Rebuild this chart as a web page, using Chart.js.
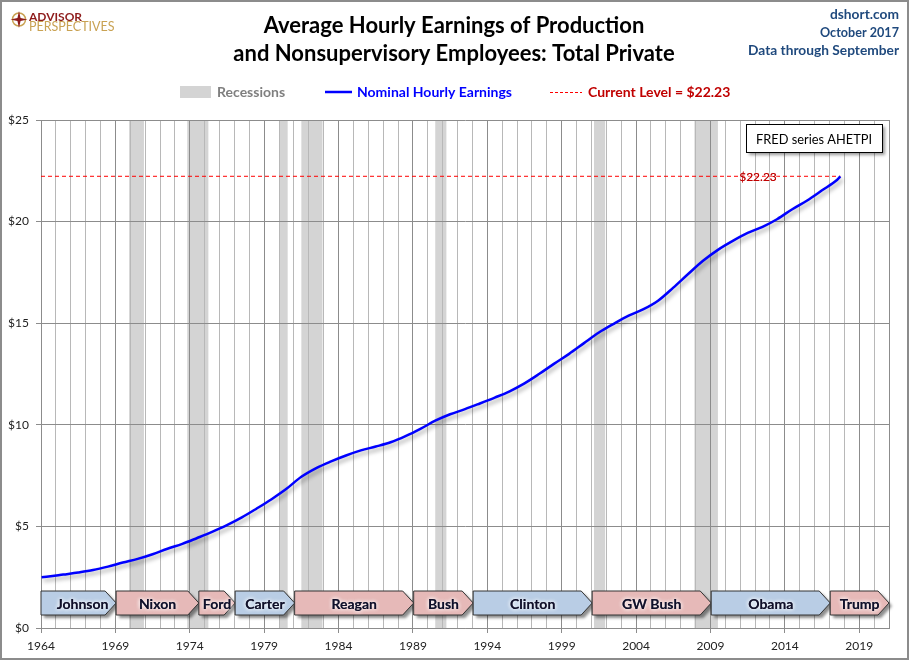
<!DOCTYPE html>
<html>
<head>
<meta charset="utf-8">
<script src="https://cdn.jsdelivr.net/npm/chart.js@4.4.0/dist/chart.umd.min.js"></script>
<style>
  html, body { margin: 0; padding: 0; background: #fff; }
  #wrap { width: 910px; height: 661px; position: relative; }
</style>
</head>
<body>
<div id="wrap"><canvas id="earningsChart"></canvas></div>
<script>
// AHETPI (first month, yearly mid-points, last month)
const years = [1964.04, 1964.5, 1965.5, 1966.5, 1967.5, 1968.5, 1969.5, 1970.5, 1971.5, 1972.5,
  1973.5, 1974.5, 1975.5, 1976.5, 1977.5, 1978.5, 1979.5, 1980.5, 1981.5, 1982.5,
  1983.5, 1984.5, 1985.5, 1986.5, 1987.5, 1988.5, 1989.5, 1990.5, 1991.5, 1992.5,
  1993.5, 1994.5, 1995.5, 1996.5, 1997.5, 1998.5, 1999.5, 2000.5, 2001.5, 2002.5,
  2003.5, 2004.5, 2005.5, 2006.5, 2007.5, 2008.5, 2009.5, 2010.5, 2011.5, 2012.5,
  2013.5, 2014.5, 2015.5, 2016.5, 2017.5, 2017.73];
const earnings = [2.50, 2.53, 2.63, 2.73, 2.85, 3.02, 3.22, 3.40, 3.63, 3.90,
  4.14, 4.43, 4.73, 5.06, 5.44, 5.88, 6.34, 6.85, 7.44, 7.87,
  8.20, 8.49, 8.74, 8.93, 9.14, 9.44, 9.80, 10.20, 10.52, 10.77,
  11.05, 11.34, 11.65, 12.04, 12.51, 13.01, 13.49, 14.02, 14.54, 14.97,
  15.37, 15.69, 16.12, 16.75, 17.42, 18.07, 18.61, 19.05, 19.44, 19.74,
  20.13, 20.61, 21.04, 21.54, 22.05, 22.23];
const currentLevel = 22.23;

const recessionStart = [1969.92, 1973.83, 1980.0, 1981.5, 1990.5, 2001.17, 2007.92];
const recessionEnd   = [1970.92, 1975.25, 1980.58, 1982.92, 1991.25, 2001.92, 2009.5];

const presidents = ['Johnson', 'Nixon', 'Ford', 'Carter', 'Reagan', 'Bush', 'Clinton', 'GW Bush', 'Obama', 'Trump'];
const termStart = [1963.89, 1969.05, 1974.61, 1977.05, 1981.05, 1989.05, 1993.05, 2001.05, 2009.05, 2017.05];
const termEnd   = [1969.05, 1974.61, 1977.05, 1981.05, 1989.05, 1993.05, 2001.05, 2009.05, 2017.05, 2021.0];
const party     = ['D', 'R', 'R', 'D', 'R', 'R', 'D', 'R', 'D', 'R'];

const xMin = 1964, xMax = 2021;
const yTicks = [0, 5, 10, 15, 20, 25];

const points = years.map((y, i) => ({ x: y, y: earnings[i] }));
const lastYear = years[years.length - 1];

Chart.defaults.font.family = 'Lato, "Open Sans", sans-serif';

function txt(ctx, s, x, y, font, color, align, maxW) {
  ctx.font = font;
  ctx.fillStyle = color;
  ctx.textAlign = align || 'left';
  ctx.textBaseline = 'middle';
  if (maxW) ctx.fillText(s, x, y, maxW); else ctx.fillText(s, x, y);
}

const decor = {
  id: 'decor',
  beforeDraw(chart) {
    const { ctx, chartArea: a, scales: { x } } = chart;
    ctx.save();
    ctx.fillStyle = '#fff';
    ctx.fillRect(0, 0, chart.width, chart.height);
    // recession bands
    ctx.fillStyle = '#d4d4d4';
    recessionStart.forEach((s, i) => {
      const x0 = x.getPixelForValue(s), x1 = x.getPixelForValue(recessionEnd[i]);
      ctx.fillRect(x0, a.top, x1 - x0, a.bottom - a.top);
    });
    ctx.restore();
  },
  beforeDatasetDraw(chart, args) {
    if (args.index !== 0) return;
    const ctx = chart.ctx;
    ctx.save();
    ctx.shadowColor = 'rgba(0,0,0,0.35)';
    ctx.shadowBlur = 4;
    ctx.shadowOffsetX = 2;
    ctx.shadowOffsetY = 3;
  },
  afterDatasetDraw(chart, args) {
    if (args.index === 0) chart.ctx.restore();
  },
  afterDraw(chart) {
    const { ctx, chartArea: a, scales: { x, y } } = chart;
    ctx.save();

    // presidential terms
    const top = a.bottom - 37, h = 24, tip = 11;
    presidents.forEach((name, i) => {
      const x0 = Math.max(x.getPixelForValue(termStart[i]), a.left);
      const x1 = x.getPixelForValue(termEnd[i]);
      ctx.beginPath();
      ctx.moveTo(x0, top);
      ctx.lineTo(x1 - tip, top);
      ctx.lineTo(x1, top + h / 2);
      ctx.lineTo(x1 - tip, top + h);
      ctx.lineTo(x0, top + h);
      ctx.closePath();
      ctx.save();
      ctx.shadowColor = 'rgba(0,0,0,0.45)';
      ctx.shadowBlur = 3;
      ctx.shadowOffsetX = 3;
      ctx.shadowOffsetY = 3;
      ctx.fillStyle = party[i] === 'D' ? '#b9cde5' : '#e6b9b8';
      ctx.fill();
      ctx.restore();
      ctx.lineWidth = 1;
      ctx.strokeStyle = '#333';
      ctx.stroke();
      ctx.save();
      ctx.shadowColor = '#fff';
      ctx.shadowBlur = 4;
      const cx = (x0 + x1) / 2 + (i === 0 ? 4 : 0);
      txt(ctx, name, cx, top + h / 2 + 1, 'bold 14px Lato', '#10102a', 'center');
      txt(ctx, name, cx, top + h / 2 + 1, 'bold 14px Lato', '#10102a', 'center');
      ctx.restore();
    });

    // current level label
    const ly = y.getPixelForValue(currentLevel);
    ctx.save();
    ctx.shadowColor = '#fff';
    ctx.shadowBlur = 3;
    txt(ctx, '$' + currentLevel.toFixed(2), 758, ly + 1, '12px Lato', '#c00000', 'center');
    txt(ctx, '$' + currentLevel.toFixed(2), 758, ly + 1, '12px Lato', '#c00000', 'center');
    ctx.restore();

    // FRED box
    const bx = a.right - 143, by = a.top + 4, bw = 136, bh = 28;
    ctx.save();
    ctx.shadowColor = 'rgba(0,0,0,0.4)';
    ctx.shadowBlur = 3;
    ctx.shadowOffsetX = 3;
    ctx.shadowOffsetY = 3;
    ctx.fillStyle = '#fff';
    ctx.fillRect(bx, by, bw, bh);
    ctx.restore();
    ctx.strokeStyle = '#000';
    ctx.lineWidth = 1;
    ctx.strokeRect(bx + 0.5, by + 0.5, bw, bh);
    txt(ctx, 'FRED series AHETPI', bx + bw / 2, by + bh / 2 + 1, '14px Lato', '#000', 'center', 116);

    // title
    txt(ctx, 'Average Hourly Earnings of Production', 454, 26, 'bold 22px Lato', '#000', 'center', 384);
    txt(ctx, 'and Nonsupervisory Employees: Total Private', 454, 54, 'bold 22px Lato', '#000', 'center', 451);

    // right notes
    txt(ctx, 'dshort.com', 899, 14, 'bold 14px Lato', '#1f497d', 'right', 69);
    txt(ctx, 'October 2017', 899, 32, 'bold 14px Lato', '#1f497d', 'right', 79);
    txt(ctx, 'Data through September', 899, 50, 'bold 14px Lato', '#1f497d', 'right', 151);

    // legend
    ctx.fillStyle = '#d4d4d4';
    ctx.fillRect(180, 86, 31, 12);
    txt(ctx, 'Recessions', 217, 92, 'bold 14px Lato', '#7f7f7f', 'left', 71);
    ctx.strokeStyle = '#0000ff';
    ctx.lineWidth = 2.5;
    ctx.beginPath(); ctx.moveTo(325, 92); ctx.lineTo(352, 92); ctx.stroke();
    txt(ctx, 'Nominal Hourly Earnings', 357, 92, 'bold 14px Lato', '#0000ff', 'left', 163);
    ctx.strokeStyle = '#ff0000';
    ctx.lineWidth = 1;
    ctx.setLineDash([3, 2]);
    ctx.beginPath(); ctx.moveTo(550, 92.5); ctx.lineTo(582, 92.5); ctx.stroke();
    ctx.setLineDash([]);
    txt(ctx, 'Current Level = $22.23', 588, 92, 'bold 14px Lato', '#c00000', 'left', 150);

    // logo
    ctx.strokeStyle = '#c9a253';
    ctx.lineWidth = 1.5;
    ctx.beginPath(); ctx.arc(19, 19.5, 6.5, 0, Math.PI * 2); ctx.stroke();
    ctx.fillStyle = '#8e1b1b';
    ctx.beginPath();
    const c = [19, 19.5];
    for (let k = 0; k < 8; k++) {
      const ang = k * Math.PI / 4 - Math.PI / 2;
      const r = k % 2 === 0 ? 8.5 : 2.2;
      const px = c[0] + r * Math.cos(ang), py = c[1] + r * Math.sin(ang);
      if (k === 0) ctx.moveTo(px, py); else ctx.lineTo(px, py);
    }
    ctx.closePath();
    ctx.fill();
    txt(ctx, 'ADVISOR', 29, 17, 'bold 12px Lato', '#8e1b1b', 'left', 65);
    txt(ctx, 'PERSPECTIVES', 29, 27, '12.5px Lato', '#c9a253', 'left', 98);

    // frame
    ctx.strokeStyle = '#8c8c8c';
    ctx.lineWidth = 2;
    ctx.strokeRect(1, 1, 907, 658);
    ctx.restore();
  }
};

const isMajor = v => Math.abs((v - xMin) % 5) < 1e-6 || v === xMax;

new Chart(document.getElementById('earningsChart'), {
  type: 'line',
  data: {
    datasets: [{
      label: 'Nominal Hourly Earnings',
      data: points,
      borderColor: '#0000ff',
      borderWidth: 2.5,
      pointRadius: 0,
      cubicInterpolationMode: 'monotone',
      fill: false
    }, {
      label: 'Current Level',
      data: [{ x: xMin, y: currentLevel }, { x: lastYear, y: currentLevel }],
      borderColor: '#ff0000',
      borderWidth: 1,
      borderDash: [4, 3],
      pointRadius: 0,
      fill: false
    }]
  },
  options: {
    responsive: true,
    maintainAspectRatio: false,
    animation: false,
    layout: { padding: { top: 120, right: 21, left: 0, bottom: 0 } },
    plugins: { legend: { display: false }, tooltip: { enabled: false }, title: { display: false } },
    scales: {
      x: {
        type: 'linear',
        min: xMin,
        max: xMax,
        ticks: {
          stepSize: 1,
          autoSkip: false,
          maxRotation: 0,
          padding: 6,
          color: '#222',
          font: { size: 12 },
          callback: v => ((v - xMin) % 5 === 0 ? String(v) : '')
        },
        grid: {
          color: c => (c.tick && isMajor(c.tick.value) ? '#8c8c8c' : '#b8b8b8'),
          tickLength: 5,
          tickColor: c => (c.tick && (c.tick.value - xMin) % 5 === 0 ? '#8c8c8c' : 'rgba(0,0,0,0)')
        },
        border: { color: '#8c8c8c' },
        afterFit: s => { s.height = 33; }
      },
      y: {
        min: 0,
        max: 25,
        afterBuildTicks: s => { s.ticks = yTicks.map(v => ({ value: v })); },
        ticks: {
          padding: 7,
          color: '#222',
          font: { size: 12 },
          callback: v => '$' + v
        },
        grid: { color: '#8c8c8c', tickLength: 5 },
        border: { color: '#8c8c8c' },
        afterFit: s => { s.width = 41; }
      }
    }
  },
  plugins: [decor]
});
</script>
</body>
</html>
